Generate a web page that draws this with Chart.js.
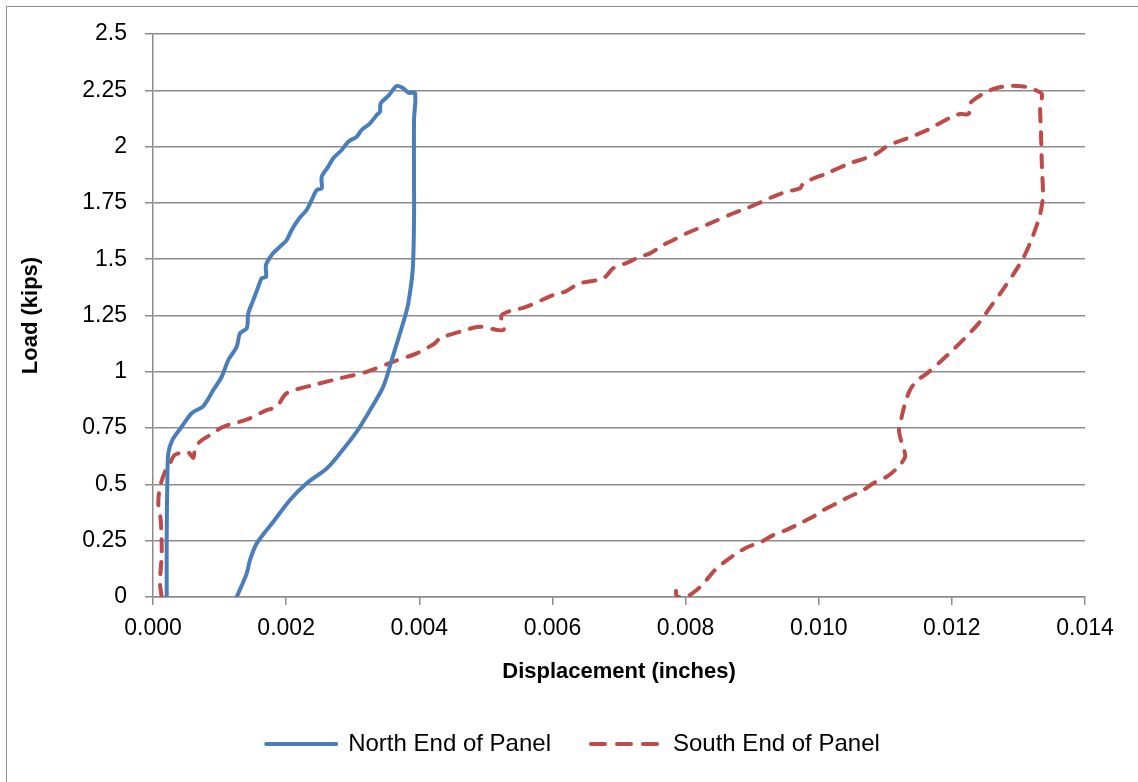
<!DOCTYPE html>
<html>
<head>
<meta charset="utf-8">
<title>Load vs Displacement</title>
<script src="https://cdn.jsdelivr.net/npm/chart.js@4.4.1/dist/chart.umd.min.js"></script>
<style>
    body { margin: 0; background: #fff; overflow: hidden; }
    #frame { position: absolute; left: 6px; top: 6px; width: 1300px; height: 900px; border-left: 1px solid #8c8c8c; border-top: 1px solid #8c8c8c; }
    #chart { position: absolute; left: 0; top: 0; }
</style>
</head>
<body>
<div id="frame"></div>
<canvas id="chart" width="1138" height="782"></canvas>
<script>
    // 하중-변위 데이터
    const northX = [0.000206, 0.000206, 0.000215, 0.000230, 0.000290, 0.000431, 0.000581, 0.000756, 0.000906, 0.001032,
        0.001131, 0.001257, 0.001307, 0.001408, 0.001432, 0.001507, 0.001582, 0.001633, 0.001697, 0.001697,
        0.001783, 0.001908, 0.002008, 0.002083, 0.002198, 0.002309, 0.002384, 0.002459, 0.002534, 0.002534,
        0.002633, 0.002708, 0.002835, 0.002934, 0.003060, 0.003135, 0.003260, 0.003360, 0.003410, 0.003420,
        0.003534, 0.003661, 0.003760, 0.003835, 0.003936, 0.003921, 0.003921, 0.003921, 0.003901, 0.003835,
        0.003785, 0.003710, 0.003586, 0.003459, 0.003260, 0.003060, 0.002809, 0.002609, 0.002309, 0.002058,
        0.001807, 0.001558, 0.001457, 0.001408, 0.001257];
    const northY = [0, 0.284, 0.505, 0.638, 0.697, 0.756, 0.816, 0.848, 0.919, 0.978,
        1.052, 1.111, 1.171, 1.193, 1.260, 1.319, 1.378, 1.415, 1.422, 1.474,
        1.519, 1.556, 1.585, 1.630, 1.682, 1.719, 1.763, 1.807, 1.815, 1.866,
        1.911, 1.948, 1.985, 2.022, 2.044, 2.074, 2.103, 2.140, 2.155, 2.192,
        2.225, 2.269, 2.259, 2.239, 2.237, 2.118, 1.822, 1.674, 1.452, 1.304,
        1.245, 1.171, 1.052, 0.934, 0.830, 0.734, 0.638, 0.571, 0.505, 0.431,
        0.334, 0.238, 0.164, 0.105, 0];

    const southX = [0.000131, 0.000105, 0.000131, 0.000116, 0.000080, 0.000105, 0.000180, 0.000255, 0.000330, 0.000530,
        0.000605, 0.000631, 0.000706, 0.000856, 0.001056, 0.001427, 0.001708, 0.001858, 0.002008, 0.002408,
        0.002809, 0.003210, 0.003610, 0.003961, 0.004236, 0.004311, 0.004612, 0.004912, 0.005262, 0.005238,
        0.005613, 0.006013, 0.006189, 0.006414, 0.006764, 0.006914, 0.007116, 0.007315, 0.007466, 0.007665,
        0.007816, 0.008017, 0.008367, 0.008717, 0.008918, 0.009144, 0.009318, 0.009519, 0.009719, 0.009768,
        0.009895, 0.010120, 0.010470, 0.010677, 0.010877, 0.011027, 0.011227, 0.011377, 0.011627, 0.011777,
        0.011977, 0.012127, 0.012251, 0.012277, 0.012453, 0.012627, 0.012827, 0.012977, 0.013127, 0.013278,
        0.013353, 0.013327, 0.013338, 0.013353, 0.013368, 0.013327, 0.013278, 0.013177, 0.013078, 0.012952,
        0.012752, 0.012577, 0.012402, 0.012176, 0.011927, 0.011627, 0.011477, 0.011371, 0.011298, 0.011247,
        0.011206, 0.011247, 0.011298, 0.011171, 0.011021, 0.010820, 0.010670, 0.010445, 0.010270, 0.010069,
        0.009919, 0.009719, 0.009519, 0.009318, 0.009144, 0.008942, 0.008768, 0.008592, 0.008442, 0.008292,
        0.008167, 0.008006, 0.007871, 0.007856];
    const southY = [0, 0.062, 0.195, 0.342, 0.417, 0.488, 0.556, 0.594, 0.631, 0.642,
        0.617, 0.657, 0.690, 0.719, 0.756, 0.790, 0.830, 0.845, 0.905, 0.941,
        0.971, 1.000, 1.045, 1.082, 1.127, 1.149, 1.178, 1.200, 1.186, 1.252,
        1.289, 1.341, 1.356, 1.393, 1.415, 1.460, 1.484, 1.511, 1.526, 1.563,
        1.585, 1.615, 1.659, 1.704, 1.726, 1.755, 1.778, 1.800, 1.815, 1.837,
        1.855, 1.881, 1.926, 1.946, 1.970, 2.002, 2.026, 2.042, 2.073, 2.097,
        2.129, 2.145, 2.145, 2.193, 2.232, 2.256, 2.269, 2.269, 2.264, 2.248,
        2.232, 2.177, 2.066, 1.907, 1.780, 1.700, 1.652, 1.573, 1.509, 1.446,
        1.358, 1.287, 1.215, 1.144, 1.072, 0.993, 0.961, 0.919, 0.860, 0.801,
        0.742, 0.683, 0.623, 0.571, 0.534, 0.505, 0.475, 0.443, 0.416, 0.386,
        0.357, 0.327, 0.298, 0.275, 0.246, 0.223, 0.194, 0.157, 0.120, 0.068,
        0.031, 0, 0, 0.027];

    const seriesNames = ['North End of Panel', 'South End of Panel'];
    const xTicks = [0, 0.002, 0.004, 0.006, 0.008, 0.010, 0.012, 0.014];
    const yTicks = [0, 0.25, 0.5, 0.75, 1, 1.25, 1.5, 1.75, 2, 2.25, 2.5];

    const blue = '#4a7ebb';
    const red = '#be4b48';
    const gridColor = '#8c8c8c';
    const fontFamily = '"Liberation Sans", Arial, sans-serif';

    function toPoints(xs, ys) {
        return xs.map((x, i) => ({ x: x, y: ys[i] }));
    }

    const ctx = document.getElementById('chart').getContext('2d');
    const chart = new Chart(ctx, {
        type: 'scatter',
        data: {
            datasets: [{
                label: seriesNames[0],
                data: toPoints(northX, northY),
                showLine: true,
                borderColor: blue,
                backgroundColor: blue,
                borderWidth: 4,
                pointRadius: 0,
                tension: 0.3,
                borderJoinStyle: 'round',
                borderCapStyle: 'round'
            }, {
                label: seriesNames[1],
                data: toPoints(southX, southY),
                showLine: true,
                borderColor: red,
                backgroundColor: red,
                borderWidth: 4,
                borderDash: [12, 11],
                borderCapStyle: 'round',
                borderJoinStyle: 'round',
                pointRadius: 0,
                tension: 0.3
            }]
        },
        options: {
            responsive: false,
            animation: false,
            devicePixelRatio: 1,
            layout: {
                padding: { left: 8, right: 0, top: 34, bottom: 16 }
            },
            plugins: {
                legend: {
                    position: 'bottom',
                    labels: {
                        padding: 40,
                        usePointStyle: true,
                        pointStyleWidth: 70,
                        color: '#000',
                        font: { family: fontFamily, size: 24 },
                        generateLabels: function(c) {
                            return c.data.datasets.map((ds, i) => ({
                                text: ds.label,
                                datasetIndex: i,
                                fillStyle: ds.borderColor,
                                strokeStyle: ds.borderColor,
                                lineWidth: 4,
                                lineDash: ds.borderDash ? [14, 12] : [],
                                lineCap: 'round',
                                pointStyle: 'line',
                                hidden: false,
                                fontColor: '#000'
                            }));
                        }
                    }
                },
                tooltip: { enabled: false }
            },
            scales: {
                x: {
                    type: 'linear',
                    min: 0,
                    max: 0.014,
                    afterBuildTicks: s => { s.ticks = xTicks.map(v => ({ value: v })); },
                    afterFit: s => { s.height = 95; },
                    grid: {
                        drawOnChartArea: false,
                        drawTicks: true,
                        tickLength: 8,
                        color: gridColor,
                        lineWidth: 1.5
                    },
                    border: { display: true, color: gridColor, width: 1.5 },
                    ticks: {
                        padding: 10,
                        maxRotation: 0,
                        color: '#000',
                        font: { family: fontFamily, size: 23 },
                        callback: v => v.toFixed(3)
                    },
                    title: {
                        display: true,
                        text: 'Displacement (inches)',
                        color: '#000',
                        font: { family: fontFamily, size: 22, weight: 'bold' },
                        padding: { top: 0, bottom: 7 }
                    }
                },
                y: {
                    type: 'linear',
                    min: 0,
                    max: 2.5,
                    afterBuildTicks: s => { s.ticks = yTicks.map(v => ({ value: v })); },
                    afterFit: s => { s.width = 145; },
                    grid: {
                        color: gridColor,
                        lineWidth: 1.5,
                        tickLength: 8
                    },
                    border: { display: true, color: gridColor, width: 1.5 },
                    ticks: {
                        padding: 18,
                        color: '#000',
                        font: { family: fontFamily, size: 23 },
                        callback: v => String(v)
                    },
                    title: {
                        display: true,
                        text: 'Load (kips)',
                        color: '#000',
                        font: { family: fontFamily, size: 22, weight: 'bold' },
                        padding: { top: 10, bottom: 0 }
                    }
                },
                y2: {
                    type: 'linear',
                    position: 'right',
                    display: true,
                    afterFit: s => { s.width = 53; },
                    grid: { display: false },
                    border: { display: false },
                    ticks: { display: false }
                }
            }
        }
    });
</script>
</body>
</html>
